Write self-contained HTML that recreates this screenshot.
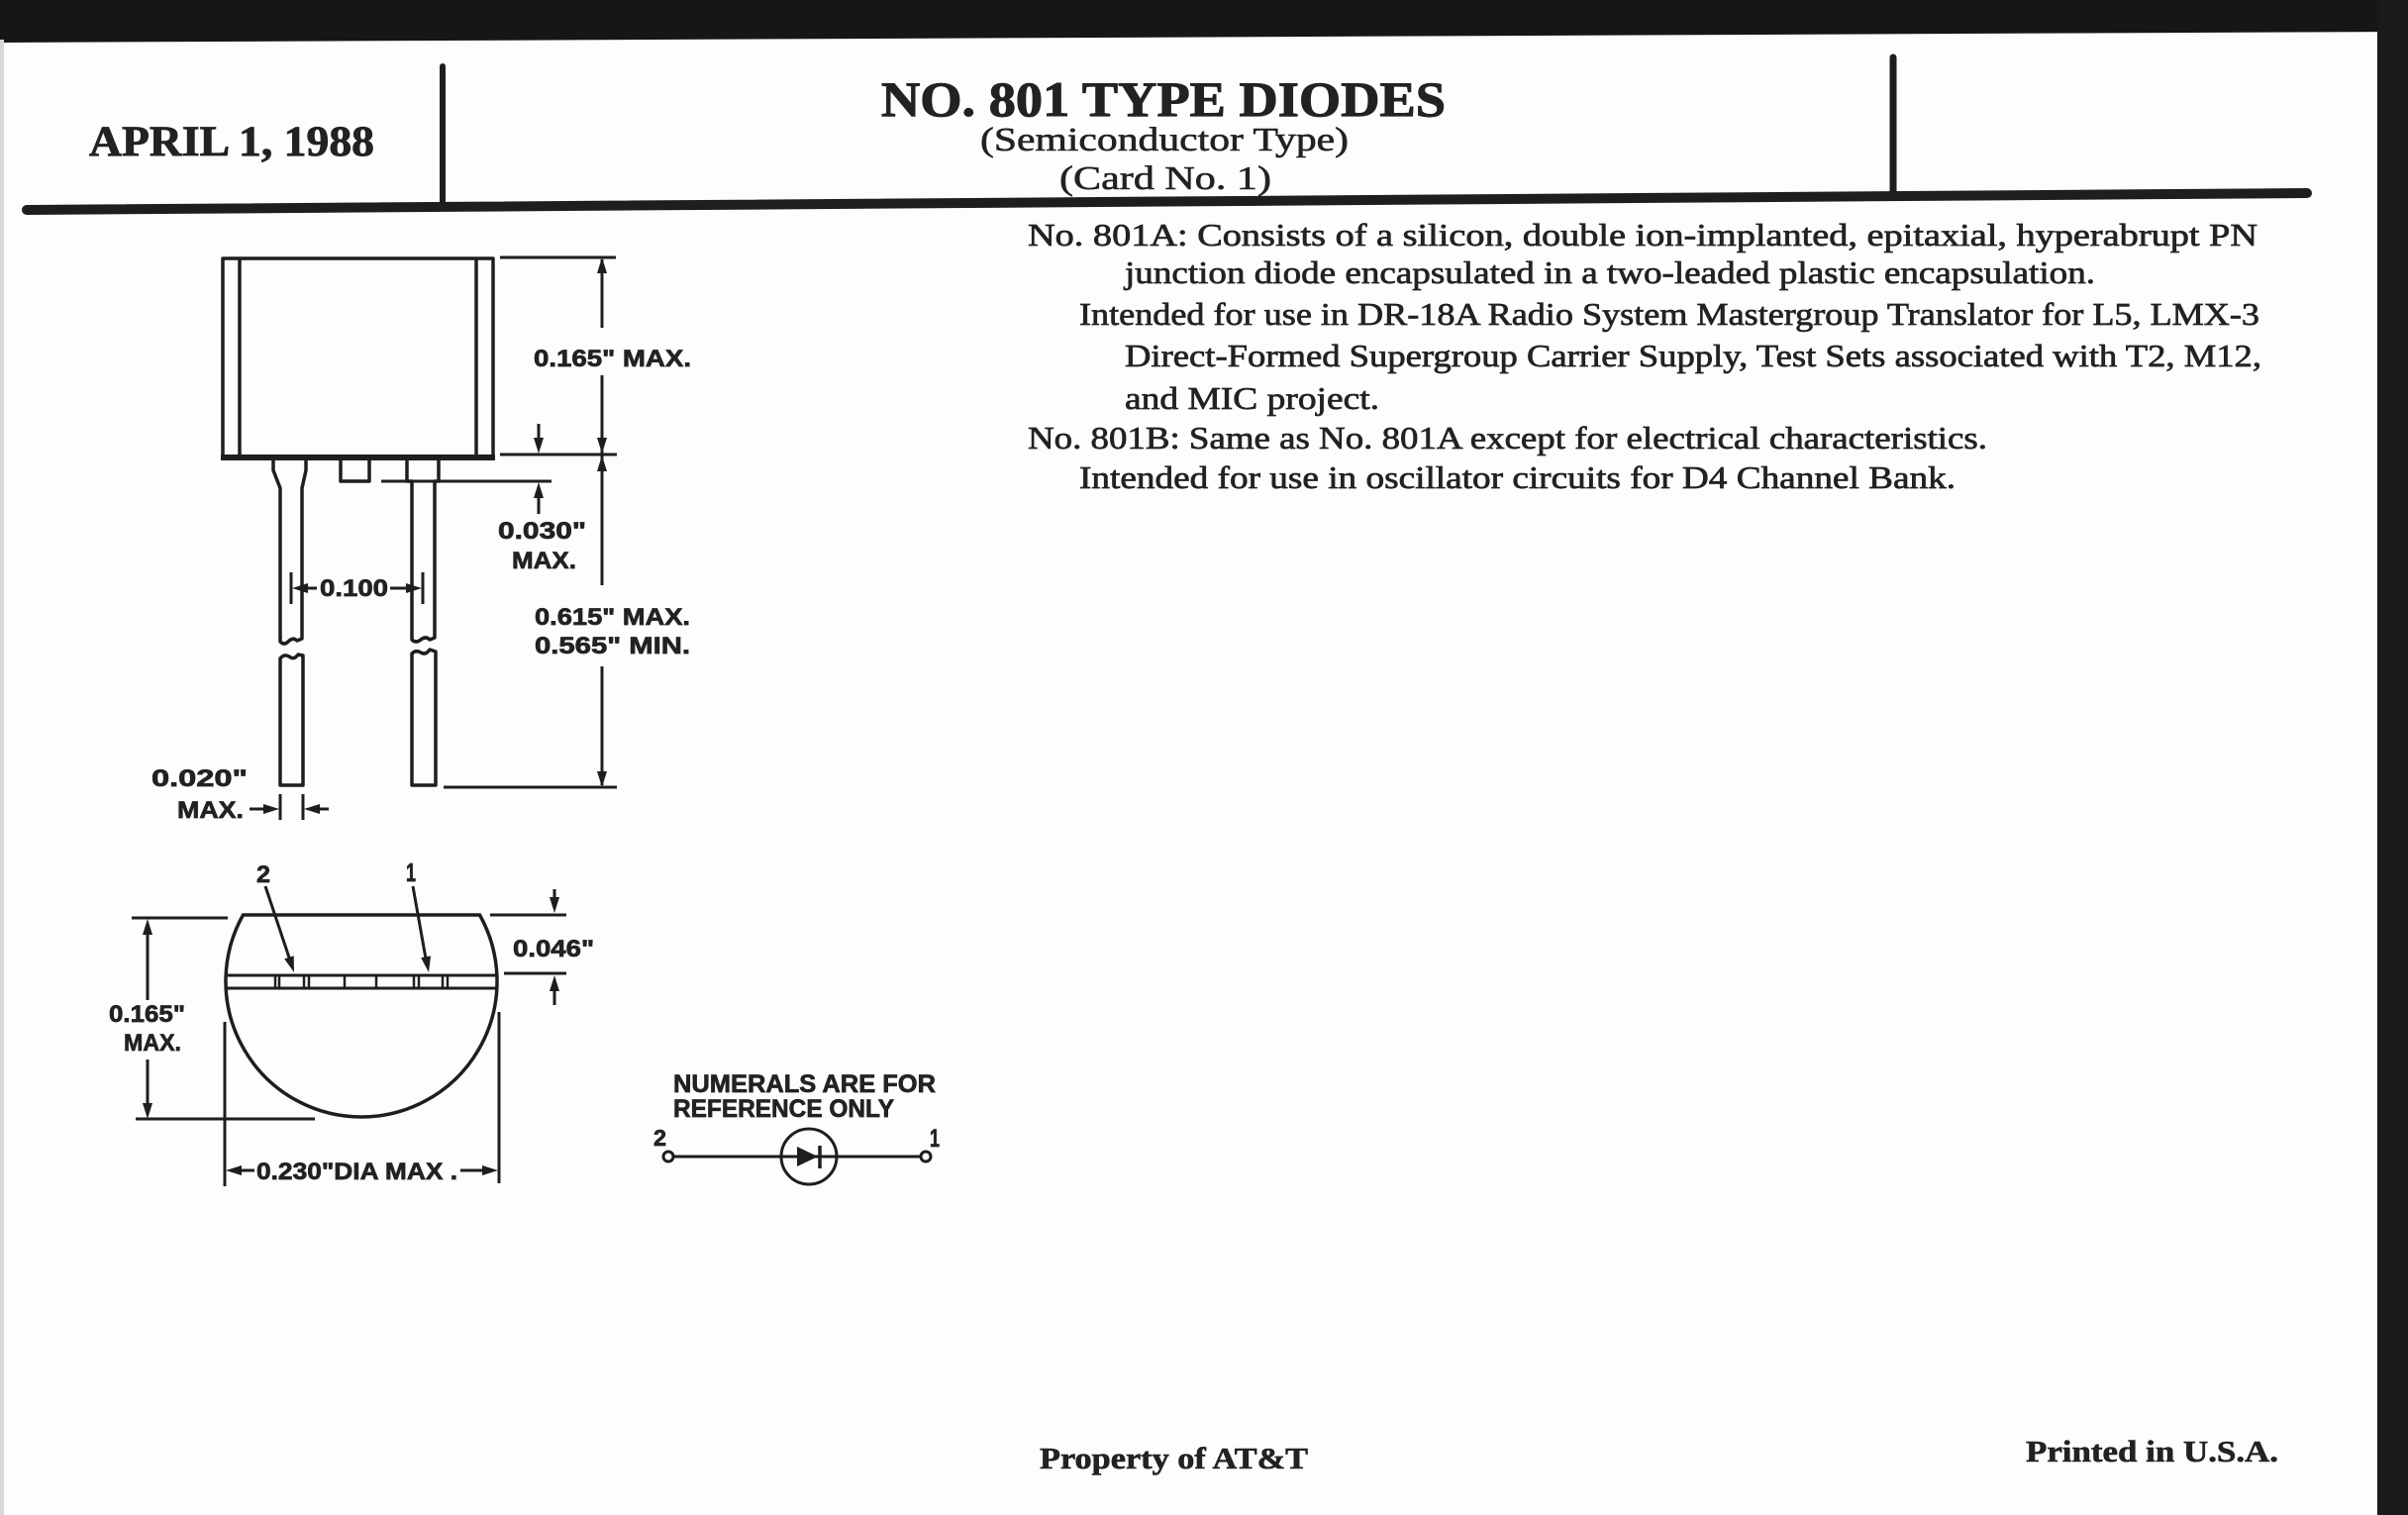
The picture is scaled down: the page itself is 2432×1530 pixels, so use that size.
<!DOCTYPE html>
<html><head><meta charset="utf-8"><style>
html,body{margin:0;padding:0;background:#fff;}
svg{display:block;}
.serif{font-family:"Liberation Serif",serif;fill:#222;}
.sans{font-family:"Liberation Sans",sans-serif;font-weight:bold;fill:#222;stroke:#222;stroke-width:0.7;}
</style></head><body>
<svg width="2432" height="1530" viewBox="0 0 2432 1530" xmlns="http://www.w3.org/2000/svg">
<rect width="2432" height="1530" fill="#fdfdfd"/>
<!-- scan borders -->
<polygon points="0,0 2432,0 2432,32 0,43" fill="#161616"/>
<rect x="2401" y="0" width="31" height="1530" fill="#1a1a1a"/>
<rect x="0" y="40" width="4" height="1490" fill="#d8d8d8"/>

<!-- header -->
<g stroke="#1e1e1e" stroke-linecap="round">
<line x1="447" y1="67" x2="447" y2="207" stroke-width="6"/>
<line x1="1912" y1="58" x2="1912" y2="195" stroke-width="7"/>
<line x1="27" y1="212" x2="2330" y2="195" stroke-width="10"/>
</g>
<text class="serif" x="90" y="157" font-size="43" font-weight="bold" stroke="#222" stroke-width="0.8" textLength="288" lengthAdjust="spacingAndGlyphs">APRIL 1, 1988</text>
<text class="serif" x="890" y="117" font-size="50" font-weight="bold" stroke="#222" stroke-width="1" textLength="570" lengthAdjust="spacingAndGlyphs">NO. 801 TYPE DIODES</text>
<text class="serif" x="990" y="152" font-size="34" stroke="#222" stroke-width="0.6" textLength="372" lengthAdjust="spacingAndGlyphs">(Semiconductor Type)</text>
<text class="serif" x="1070" y="191" font-size="34" stroke="#222" stroke-width="0.6" textLength="214" lengthAdjust="spacingAndGlyphs">(Card No. 1)</text>

<!-- body text -->
<g class="serif" font-size="32" stroke="#222" stroke-width="0.7">
<text x="1038" y="248" textLength="1242" lengthAdjust="spacingAndGlyphs">No. 801A: Consists of a silicon, double ion-implanted, epitaxial, hyperabrupt PN</text>
<text x="1136" y="286" textLength="980" lengthAdjust="spacingAndGlyphs">junction diode encapsulated in a two-leaded plastic encapsulation.</text>
<text x="1090" y="328" textLength="1192" lengthAdjust="spacingAndGlyphs">Intended for use in DR-18A Radio System Mastergroup Translator for L5, LMX-3</text>
<text x="1136" y="370" textLength="1148" lengthAdjust="spacingAndGlyphs">Direct-Formed Supergroup Carrier Supply, Test Sets associated with T2, M12,</text>
<text x="1136" y="413" textLength="257" lengthAdjust="spacingAndGlyphs">and MIC project.</text>
<text x="1038" y="453" textLength="969" lengthAdjust="spacingAndGlyphs">No. 801B: Same as No. 801A except for electrical characteristics.</text>
<text x="1090" y="493" textLength="885" lengthAdjust="spacingAndGlyphs">Intended for use in oscillator circuits for D4 Channel Bank.</text>
</g>

<!-- footer -->
<text class="serif" x="1050" y="1483" font-size="31" font-weight="bold" stroke="#222" stroke-width="0.6" textLength="271" lengthAdjust="spacingAndGlyphs">Property of AT&amp;T</text>
<text class="serif" x="2046" y="1476" font-size="31" font-weight="bold" stroke="#222" stroke-width="0.6" textLength="255" lengthAdjust="spacingAndGlyphs">Printed in U.S.A.</text>

<!-- TOP VIEW DRAWING -->
<g fill="none" stroke="#1e1e1e" stroke-width="3.5" stroke-linejoin="round">
<rect x="225" y="261" width="273" height="200"/>
<line x1="242" y1="261" x2="242" y2="461"/>
<line x1="481" y1="261" x2="481" y2="461"/>
<line x1="223" y1="462" x2="500" y2="462" stroke-width="6"/>
<!-- lead 1 -->
<path d="M276,463 L276,475 L283,493 L283,648 Q287,652 291,648 Q296,643 300,647 L305,645 L305,493 L309,475 L309,463"/>
<path d="M283,793 L283,665 Q287,660 292,663 Q297,667 301,661 L306,662 L306,793 Z"/>
<!-- lead 2 -->
<path d="M411,463 L411,486 L416,486 L416,646 Q420,650 425,646 Q430,642 434,646 L439,644 L439,486 L443,486 L443,463"/>
<path d="M416,793 L416,660 Q420,656 425,659 Q430,662 434,656 L440,658 L440,793 Z"/>
<!-- tab -->
<path d="M344,463 L344,486 L373,486 L373,463"/>
<!-- reference line -->
<line x1="385" y1="486" x2="557" y2="486" stroke-width="3"/>
<!-- extension lines -->
<line x1="505" y1="260" x2="622" y2="260" stroke-width="3"/>
<line x1="505" y1="459" x2="623" y2="459" stroke-width="3"/>
<line x1="448" y1="795" x2="623" y2="795" stroke-width="3"/>
<!-- main dim line -->
<line x1="608" y1="262" x2="608" y2="331" stroke-width="3"/>
<line x1="608" y1="379" x2="608" y2="458" stroke-width="3"/>
<line x1="608" y1="460" x2="608" y2="591" stroke-width="3"/>
<line x1="608" y1="673" x2="608" y2="793" stroke-width="3"/>
<!-- 0.030 -->
<line x1="544" y1="428" x2="544" y2="450" stroke-width="3"/>
<line x1="544" y1="495" x2="544" y2="519" stroke-width="3"/>
<!-- 0.100 -->
<line x1="294" y1="578" x2="294" y2="610" stroke-width="3"/>
<line x1="427" y1="578" x2="427" y2="610" stroke-width="3"/>
<line x1="300" y1="594" x2="320" y2="594" stroke-width="3"/>
<line x1="394" y1="594" x2="420" y2="594" stroke-width="3"/>
<!-- 0.020 -->
<line x1="283" y1="802" x2="283" y2="828" stroke-width="3"/>
<line x1="306" y1="802" x2="306" y2="828" stroke-width="3"/>
<line x1="252" y1="817" x2="275" y2="817" stroke-width="3"/>
<line x1="313" y1="817" x2="332" y2="817" stroke-width="3"/>
</g>
<g fill="#1e1e1e">
<polygon points="608,260 603,276 613,276"/>
<polygon points="608,458 603,442 613,442"/>
<polygon points="608,460 603,476 613,476"/>
<polygon points="608,795 603,779 613,779"/>
<polygon points="544,458 539,442 549,442"/>
<polygon points="544,487 539,503 549,503"/>
<polygon points="295,594 311,589 311,599"/>
<polygon points="426,594 410,589 410,599"/>
<polygon points="282,817 266,812 266,822"/>
<polygon points="307,817 323,812 323,822"/>
</g>
<g class="sans" font-size="24">
<text x="539" y="370" textLength="159" lengthAdjust="spacingAndGlyphs">0.165" MAX.</text>
<text x="503" y="544" textLength="89" lengthAdjust="spacingAndGlyphs">0.030"</text>
<text x="517" y="574" textLength="65" lengthAdjust="spacingAndGlyphs">MAX.</text>
<text x="540" y="631" textLength="157" lengthAdjust="spacingAndGlyphs">0.615" MAX.</text>
<text x="540" y="660" textLength="157" lengthAdjust="spacingAndGlyphs">0.565" MIN.</text>
<text x="323" y="602" textLength="69" lengthAdjust="spacingAndGlyphs">0.100</text>
<text x="153" y="794" textLength="97" lengthAdjust="spacingAndGlyphs">0.020"</text>
<text x="179" y="826" textLength="67" lengthAdjust="spacingAndGlyphs">MAX.</text>
</g>

<!-- BOTTOM VIEW -->
<g fill="none" stroke="#1e1e1e" stroke-width="3.5">
<path d="M245.5,924 L484.5,924 A137,137 0 1 1 245.5,924 Z"/>
<line x1="228" y1="985" x2="502" y2="985" stroke-width="3"/>
<line x1="228" y1="998" x2="502" y2="998" stroke-width="3"/>
<g stroke-width="2.5">
<line x1="278" y1="985" x2="278" y2="998"/>
<line x1="282" y1="985" x2="282" y2="998"/>
<line x1="307" y1="985" x2="307" y2="998"/>
<line x1="312" y1="985" x2="312" y2="998"/>
<line x1="348" y1="985" x2="348" y2="998"/>
<line x1="380" y1="985" x2="380" y2="998"/>
<line x1="418" y1="985" x2="418" y2="998"/>
<line x1="423" y1="985" x2="423" y2="998"/>
<line x1="447" y1="985" x2="447" y2="998"/>
<line x1="452" y1="985" x2="452" y2="998"/>
</g>
<g stroke-width="3">
<line x1="133" y1="927" x2="230" y2="927"/>
<line x1="495" y1="924" x2="572" y2="924"/>
<line x1="509" y1="983" x2="572" y2="983"/>
<line x1="137" y1="1130" x2="318" y2="1130"/>
<line x1="227" y1="1032" x2="227" y2="1198"/>
<line x1="504" y1="1022" x2="504" y2="1195"/>
<line x1="560" y1="898" x2="560" y2="912"/>
<line x1="560" y1="996" x2="560" y2="1015"/>
<line x1="149" y1="940" x2="149" y2="1010"/>
<line x1="149" y1="1070" x2="149" y2="1118"/>
<line x1="240" y1="1182" x2="257" y2="1182"/>
<line x1="465" y1="1182" x2="490" y2="1182"/>
<line x1="268" y1="895" x2="293" y2="970"/>
<line x1="417" y1="895" x2="430" y2="968"/>
</g>
</g>
<g fill="#1e1e1e">
<polygon points="560,922 555,906 565,906"/>
<polygon points="560,985 555,1001 565,1001"/>
<polygon points="149,928 144,944 154,944"/>
<polygon points="149,1130 144,1114 154,1114"/>
<polygon points="228,1182 244,1177 244,1187"/>
<polygon points="503,1182 487,1177 487,1187"/>
<polygon points="297,982 296.7,965.2 287.2,968.4"/>
<polygon points="433,982 435,965.4 425.2,967.2"/>
</g>
<g class="sans" font-size="24">
<text x="259" y="891" textLength="14" lengthAdjust="spacingAndGlyphs">2</text>
<text x="410" y="890" font-size="26" textLength="10" lengthAdjust="spacingAndGlyphs">1</text>
<text x="518" y="966" textLength="82" lengthAdjust="spacingAndGlyphs">0.046"</text>
<text x="110" y="1032" textLength="77" lengthAdjust="spacingAndGlyphs">0.165"</text>
<text x="125" y="1061" textLength="58" lengthAdjust="spacingAndGlyphs">MAX.</text>
<text x="259" y="1191" textLength="203" lengthAdjust="spacingAndGlyphs">0.230"DIA MAX .</text>
</g>

<!-- SCHEMATIC -->
<g class="sans" font-size="25">
<text x="680" y="1103" textLength="265" lengthAdjust="spacingAndGlyphs">NUMERALS ARE FOR</text>
<text x="680" y="1128" textLength="223" lengthAdjust="spacingAndGlyphs">REFERENCE ONLY</text>
<text x="660" y="1157" font-size="23" textLength="13" lengthAdjust="spacingAndGlyphs">2</text>
<text x="939" y="1158" font-size="25" textLength="10" lengthAdjust="spacingAndGlyphs">1</text>
</g>
<g stroke="#1e1e1e" stroke-width="3" fill="none">
<line x1="680" y1="1168" x2="930" y2="1168"/>
<circle cx="817" cy="1168" r="28"/>
<line x1="828" y1="1157" x2="828" y2="1180" stroke-width="3.5"/>
<circle cx="675" cy="1168" r="5" fill="#fff"/>
<circle cx="935" cy="1168" r="5" fill="#fff"/>
</g>
<polygon points="805,1158 805,1178 826,1168" fill="#1e1e1e"/>
</svg>
</body></html>
